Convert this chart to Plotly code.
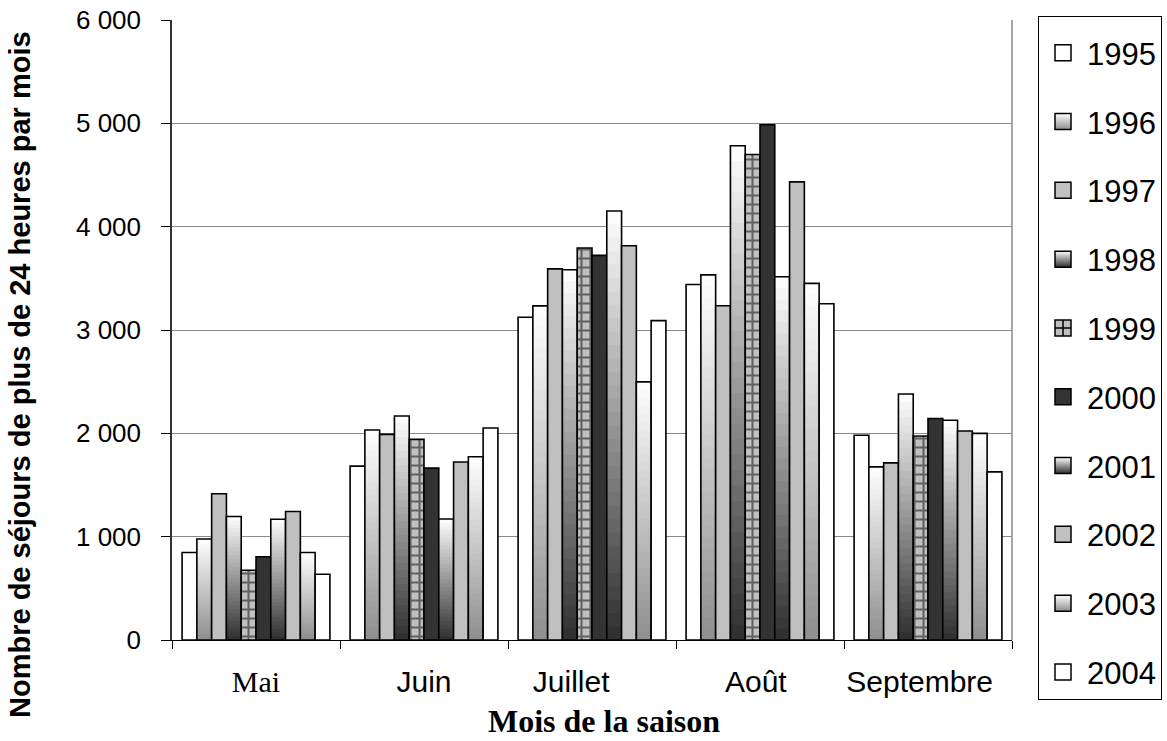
import plotly.graph_objects as go

# Mois de la saison et années
mois = ["Mai", "Juin", "Juillet", "Août", "Septembre"]
annees = ["1995", "1996", "1997", "1998", "1999", "2000", "2001", "2002", "2003", "2004"]

# Nombre de séjours de plus de 24 heures, par mois et par année
s1995 = [847, 1683, 3123, 3441, 1981]
s1996 = [977, 2032, 3233, 3533, 1675]
s1997 = [1416, 1990, 3592, 3234, 1714]
s1998 = [1195, 2168, 3583, 4783, 2380]
s1999 = [675, 1942, 3793, 4698, 1974]
s2000 = [805, 1663, 3722, 4986, 2143]
s2001 = [1169, 1171, 4152, 3516, 2127]
s2002 = [1244, 1722, 3816, 4433, 2023]
s2003 = [847, 1773, 2498, 3451, 2000]
s2004 = [636, 2052, 3091, 3254, 1627]

series = [s1995, s1996, s1997, s1998, s1999, s2000, s2001, s2002, s2003, s2004]

# Remplissage de chaque série : uni, dégradé vertical (blanc en haut) ou quadrillé
styles = {
    "1995": ("uni", "#ffffff"),
    "1996": ("degrade", "#8e8e8e"),
    "1997": ("uni", "#c0c0c0"),
    "1998": ("degrade", "#2e2e2e"),
    "1999": ("quadrille", "#c0c0c0"),
    "2000": ("uni", "#333333"),
    "2001": ("degrade", "#2e2e2e"),
    "2002": ("uni", "#c0c0c0"),
    "2003": ("degrade", "#8e8e8e"),
    "2004": ("uni", "#ffffff"),
}

SANS = "Liberation Sans, Arial, sans-serif"
SERIF = "Liberation Serif, Times New Roman, serif"
N_BANDES = 32
CONTOUR = dict(color="#000000", width=1.6)
NBSP = "\u00a0"


def melange(bas, t):
    """Couleur entre le ton du bas (t=0) et le blanc (t=1)."""
    b = int(bas[1:3], 16)
    v = round(b + (255 - b) * t)
    return f"rgb({v},{v},{v})"


fig = go.Figure()

for annee, valeurs in zip(annees, series):
    genre, couleur = styles[annee]
    if genre == "degrade":
        # bandes superposées depuis la base : chaque bande recouvre la partie basse de la précédente
        for k in range(N_BANDES):
            frac = (N_BANDES - k) / N_BANDES
            t = (N_BANDES - k - 0.5) / N_BANDES
            fig.add_bar(
                x=mois, y=[v * frac for v in valeurs], base=0,
                offsetgroup=annee, showlegend=False, hoverinfo="skip",
                marker=dict(color=melange(couleur, t), line=dict(width=0)),
            )
        fig.add_bar(
            x=mois, y=valeurs, base=0, name=annee, offsetgroup=annee, showlegend=False,
            marker=dict(color="rgba(0,0,0,0)", line=CONTOUR),
        )
    elif genre == "quadrille":
        fig.add_bar(
            x=mois, y=valeurs, base=0, name=annee, offsetgroup=annee, showlegend=False,
            marker=dict(
                color=couleur, line=CONTOUR,
                pattern=dict(shape="+", fgcolor="#000000", bgcolor=couleur,
                             size=9, solidity=0.4, fillmode="overlay"),
            ),
        )
    else:
        fig.add_bar(
            x=mois, y=valeurs, base=0, name=annee, offsetgroup=annee, showlegend=False,
            marker=dict(color=couleur, line=CONTOUR),
        )

# Entrées de légende
for annee in annees:
    genre, couleur = styles[annee]
    marqueur = dict(size=16, symbol="square", color=couleur,
                    line=dict(color="#000000", width=1.5))
    if genre == "degrade":
        marqueur["color"] = "#ffffff"
        marqueur["gradient"] = dict(type="vertical", color=couleur)
    elif genre == "quadrille":
        marqueur["symbol"] = "square-cross"
    fig.add_scatter(
        x=[None], y=[None], mode="markers", name=annee, legendgroup=annee,
        marker=marqueur, hoverinfo="skip",
    )

fig.update_layout(
    width=1167, height=741,
    margin=dict(l=172, r=155, t=20, b=101, autoexpand=False),
    paper_bgcolor="#ffffff", plot_bgcolor="#ffffff",
    barmode="group", bargap=0.12, bargroupgap=0,
    separators=", ",
    font=dict(family=SANS, color="#000000"),
    showlegend=True,
    legend=dict(
        xref="container", yref="container",
        x=1038 / 1167, xanchor="left", y=1 - 16 / 741, yanchor="top",
        maxheight=730,
        bordercolor="#000000", borderwidth=1, bgcolor="#ffffff",
        font=dict(family=SANS, size=31, color="#000000"),
        title=dict(text=NBSP, font=dict(size=7)),
        traceorder="grouped", tracegroupgap=25.5, itemwidth=38,
    ),
    xaxis=dict(
        type="category", categoryorder="array", categoryarray=mois,
        tickson="boundaries", ticks="outside", ticklen=8, tickcolor="#000000", tickwidth=1,
        showline=True, linecolor="#000000", linewidth=1, showgrid=False,
        tickfont=dict(family=SANS, size=30), ticklabelstandoff=15, tickangle=0,
        labelalias={
            "Mai": f'<span style="font-family:{SERIF}">Mai</span>',
            "Juillet": "Juillet" + NBSP * 5,
            "Août": "Août" + NBSP,
            "Septembre": "Septembre" + NBSP * 2,
        },
    ),
    yaxis=dict(
        range=[0, 6000], dtick=1000, tickformat=",.0f",
        ticks="outside", ticklen=9, tickcolor="#000000", tickwidth=1,
        showline=True, linecolor="#333333", linewidth=1.5,
        showgrid=True, gridcolor="#8a8a8a", gridwidth=1,
        tickfont=dict(family=SANS, size=26), ticklabelstandoff=15,
        zeroline=False,
    ),
    shapes=[
        dict(type="line", xref="paper", yref="paper", x0=1, x1=1, y0=0, y1=1,
             line=dict(color="#8a8a8a", width=1.5)),
    ],
    annotations=[
        dict(text="Nombre de séjours de plus de 24 heures par mois",
             xref="paper", yref="paper", x=-0.181, y=0.429,
             xanchor="center", yanchor="middle", textangle=-90, showarrow=False,
             font=dict(family=SANS, size=29, weight="bold")),
        dict(text="Mois de la saison",
             xref="paper", yref="paper", x=0.514, y=-0.131,
             xanchor="center", yanchor="middle", showarrow=False,
             font=dict(family=SERIF, size=32, weight="bold")),
    ],
)

fig.write_html("out.html")
